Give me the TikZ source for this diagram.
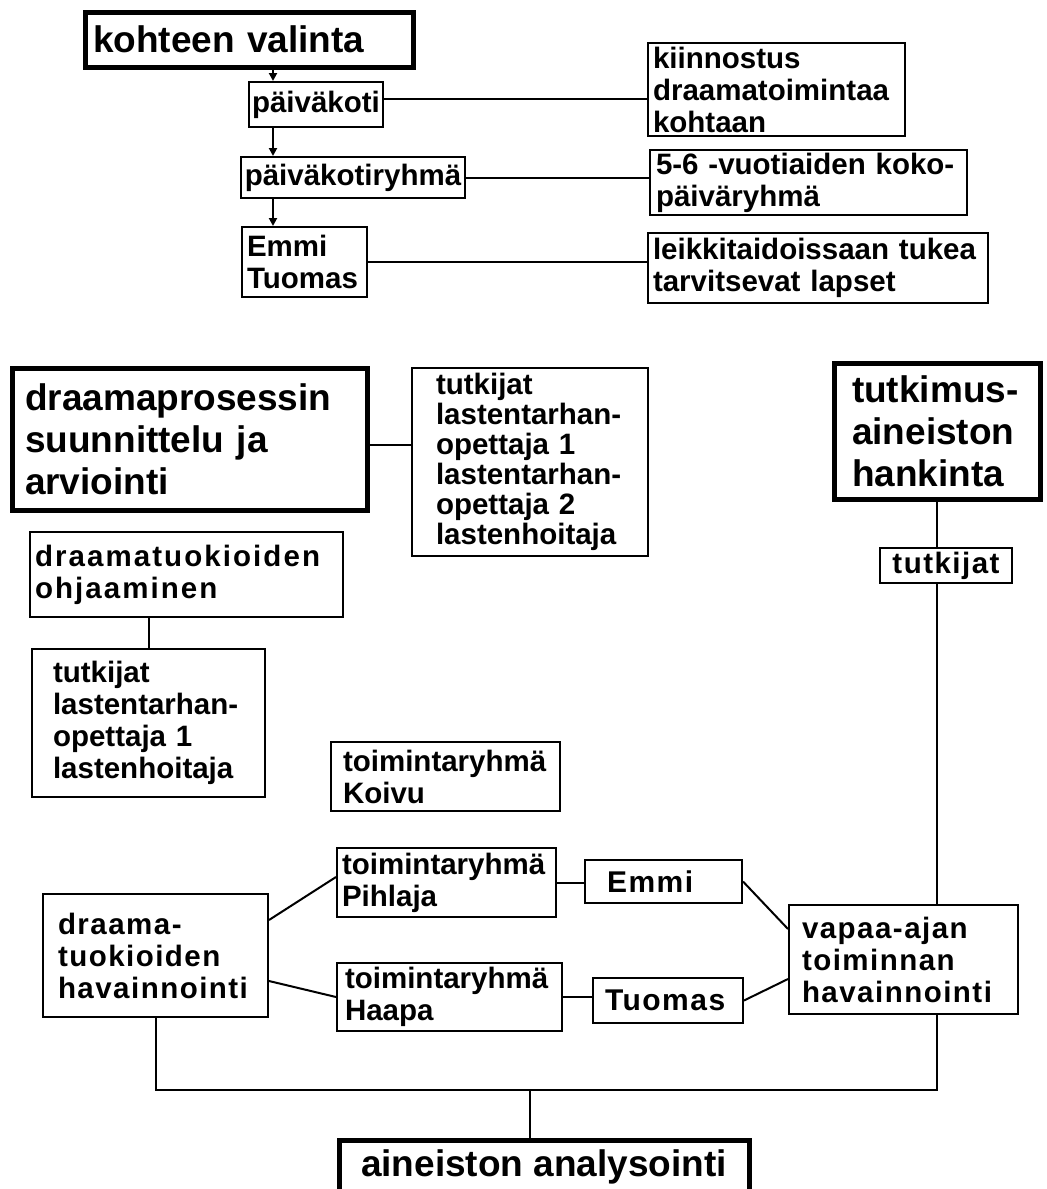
\documentclass[tikz,border=0pt]{standalone}
\usepackage{fontspec}
\setmainfont{Liberation Sans}
\newfontfamily\spacedA[LetterSpace=5]{Liberation Sans}
\newfontfamily\spacedB[LetterSpace=7]{Liberation Sans}
\usetikzlibrary{arrows.meta,calc}
\newcommand\myBody{\fontsize{29.5}{32}\selectfont\bfseries\hyphenpenalty=10000\exhyphenpenalty=10000}
\newcommand\myTight{\fontsize{29.5}{30}\selectfont\bfseries\hyphenpenalty=10000\exhyphenpenalty=10000}
\newcommand\myHead{\fontsize{37}{42}\selectfont\bfseries\hyphenpenalty=10000\exhyphenpenalty=10000}
\newcommand\myName{\fontsize{30}{34}\selectfont\bfseries}
\begin{document}
\begin{tikzpicture}[x=1pt,y=-1pt,
  box/.style={draw, line width=2pt, inner ysep=0pt, align=left, font=\myBody},
  head/.style={box, line width=5pt, font=\myHead},
  conn/.style={line width=2pt},
  arr/.style={conn, -{Triangle[length=8pt,width=8pt]}}]
\useasboundingbox[fill=white] (0,0) rectangle (1047,1189);

% top section
\node[head, inner xsep=8pt, text width=312pt, minimum height=55pt] (A) at (249,39.5) {kohteen valinta};
\node[box, inner xsep=3pt, minimum width=132pt, minimum height=45pt] (B) at (316,104.5) {päiväkoti};
\node[box, inner xsep=4pt, minimum width=220pt, minimum height=41pt] (C) at (353,177.5) {päiväkotiryhmä};
\node[box, inner xsep=5pt, text width=115pt, minimum height=70pt] (D) at (304.5,262) {Emmi\\Tuomas};
\node[box, inner xsep=5pt, text width=247pt, minimum height=93pt] (E) at (776.5,89.5) {kiinnostus\\draamatoimintaa\\kohtaan};
\node[box, inner xsep=6pt, text width=305pt, minimum height=65pt] (F) at (808.5,182.5) {5-6 -vuotiaiden koko-\\päiväryhmä};
\node[box, inner xsep=5pt, text width=330pt, minimum height=70pt] (G) at (818,268) {leikkitaidoissaan tukea\\tarvitsevat lapset};

% middle section
\node[head, inner xsep=13pt, text width=329pt, minimum height=142pt] (H) at (189.5,439) {draamaprosessin\\suunnittelu ja\\arviointi};
\node[box, font=\myTight, inner xsep=24pt, text width=188pt, minimum height=188pt] (I) at (530,462) {tutkijat\\lastentarhan-\\opettaja 1\\lastentarhan-\\opettaja 2\\lastenhoitaja};
\node[head, inner xsep=18pt, text width=170pt, minimum height=136pt] (J) at (937,431) {tutkimus-\\aineiston\\hankinta};
\node[box, font=\spacedA\myBody, inner xsep=4pt, minimum width=132pt, minimum height=35pt] (K) at (946,565.5) {tutkijat};
\node[box, font=\spacedB\myBody, inner xsep=5pt, text width=303pt, minimum height=85pt] (L) at (186.5,574.5) {draamatuokioiden\\ohjaaminen};
\node[box, inner xsep=21pt, text width=191pt, minimum height=148pt] (M) at (148.5,723) {tutkijat\\lastentarhan-\\opettaja 1\\lastenhoitaja};
\node[box, inner xsep=12pt, text width=205pt, minimum height=69pt] (N) at (445.5,776.5) {toimintaryhmä\\Koivu};

% lower section
\node[box, inner xsep=5pt, text width=209pt, minimum height=69pt] (O) at (446.5,882.5) {toimintaryhmä\\Pihlaja};
\node[box, inner xsep=8pt, text width=209pt, minimum height=68pt] (P) at (449.5,997) {toimintaryhmä\\Haapa};
\node[box, font=\spacedA\myName, inner xsep=22pt, text width=113pt, minimum height=43pt] (Q) at (663.5,881.5) {Emmi};
\node[box, font=\spacedA\myName, inner xsep=12pt, text width=126pt, minimum height=45pt] (R) at (668,1000.5) {Tuomas};
\node[box, font=\spacedA\myBody, inner xsep=13pt, text width=203pt, minimum height=109pt] (S) at (903.5,959.5) {vapaa-ajan\\toiminnan\\havainnointi};
\node[box, font=\spacedA\myBody, inner xsep=15pt, text width=195pt, minimum height=123pt] (T) at (155.5,955.5) {draama-\\tuokioiden\\havainnointi};
\node[head, inner xsep=4pt, minimum width=410pt, minimum height=54pt] (U) at (544,1167) {aineiston analysointi};

% connectors
\coordinate (ax) at (273,0);
\draw[arr] (A.south -| ax) -- (B.north -| ax);
\draw[arr] (B.south -| ax) -- (C.north -| ax);
\draw[arr] (C.south -| ax) -- (D.north -| ax);
\draw[conn] ($(B.east)+(0,-6)$) -- ($(B.east -| E.west)+(0,-6)$);
\draw[conn] (C.east) -- (C.east -| F.west);
\draw[conn] (D.east) -- (D.east -| G.west);
\draw[conn] ($(H.east)+(0,6)$) -- ($(H.east -| I.west)+(0,6)$);
\draw[conn] (M.north) -- (M.north |- L.south);
\draw[conn] (J.south) -- (K.north -| J.south);
\draw[conn] (K.south -| J.south) -- (S.north -| J.south);
\draw[conn] ($(T.north east)+(0,27)$) -- ($(O.north west)+(0,30)$);
\draw[conn] ($(T.north east)+(0,88)$) -- (P.west);
\draw[conn] (O.east) -- (O.east -| Q.west);
\draw[conn] (P.east) -- (P.east -| R.west);
\draw[conn] (Q.east) -- ($(S.north west)+(0,25)$);
\draw[conn] (R.east) -- ($(S.north west)+(0,75)$);
\coordinate (jb) at (530,1090);
\draw[conn] (T.south) |- (jb);
\draw[conn] (S.south -| J.south) |- (jb);
\draw[conn] (jb) -- (U.north -| jb);
\end{tikzpicture}
\end{document}
